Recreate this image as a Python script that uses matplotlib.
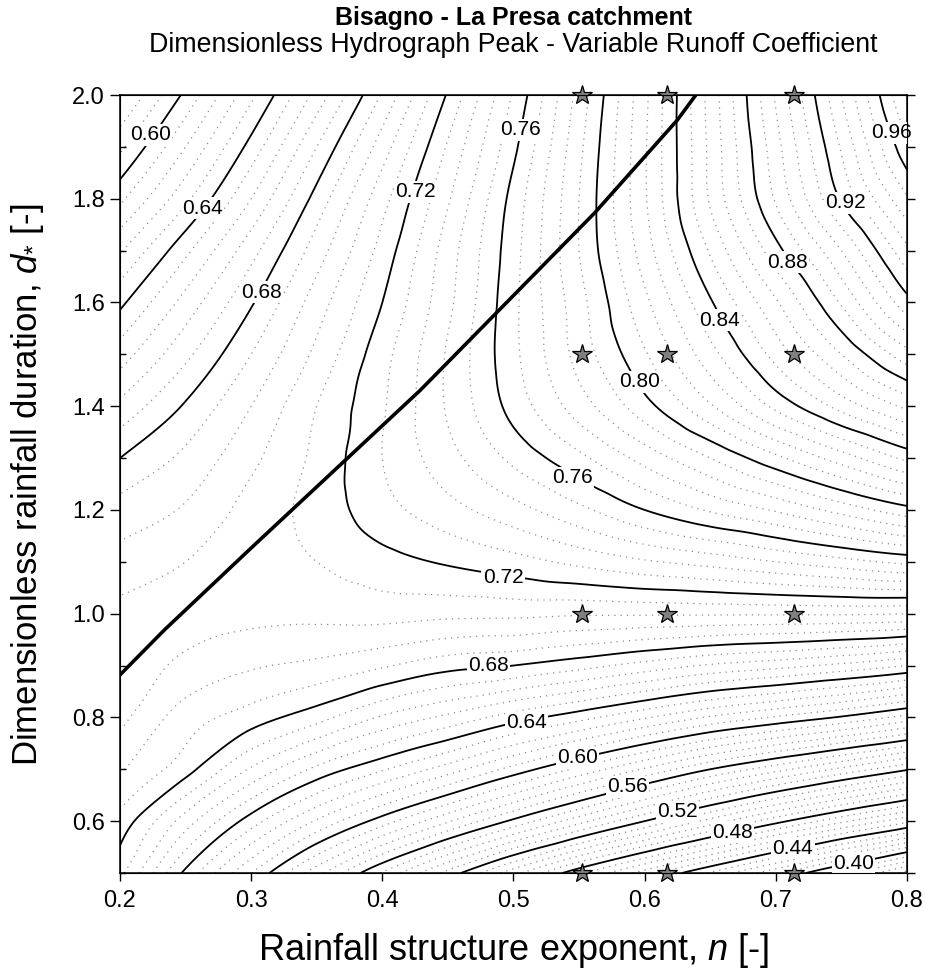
import numpy as np
import matplotlib
matplotlib.use("Agg")
import matplotlib.pyplot as plt
import matplotlib.tri as mtri

plt.rcParams['font.family'] = ['Liberation Sans', 'DejaVu Sans']
plt.rcParams['mathtext.fontset'] = 'custom'
plt.rcParams['mathtext.rm'] = 'Liberation Sans'
plt.rcParams['mathtext.it'] = 'Liberation Sans:italic'

# grid of the dimensionless hydrograph peak
n_values = [0.20, 0.25, 0.30, 0.35, 0.40, 0.45, 0.50, 0.55, 0.60, 0.65, 0.70, 0.75, 0.80]
d_values = [0.5, 0.6, 0.7, 0.8, 0.9, 1.0, 1.1, 1.2, 1.3, 1.4, 1.5, 1.6, 1.7, 1.8, 1.9, 2.0]
peak = [
    [0.674, 0.638, 0.608, 0.579, 0.551, 0.525, 0.499, 0.474, 0.452, 0.431, 0.410, 0.388, 0.365],
    [0.685, 0.660, 0.636, 0.615, 0.596, 0.577, 0.558, 0.539, 0.520, 0.501, 0.483, 0.466, 0.450],
    [0.697, 0.683, 0.663, 0.646, 0.633, 0.620, 0.605, 0.590, 0.575, 0.560, 0.547, 0.534, 0.521],
    [0.706, 0.692, 0.684, 0.675, 0.663, 0.654, 0.644, 0.635, 0.625, 0.615, 0.607, 0.599, 0.589],
    [0.709, 0.702, 0.697, 0.694, 0.689, 0.683, 0.680, 0.675, 0.669, 0.663, 0.659, 0.654, 0.648],
    [0.706, 0.707, 0.706, 0.706, 0.707, 0.706, 0.706, 0.705, 0.705, 0.705, 0.705, 0.705, 0.704],
    [0.699, 0.704, 0.708, 0.712, 0.717, 0.721, 0.725, 0.730, 0.735, 0.739, 0.744, 0.749, 0.754],
    [0.691, 0.697, 0.707, 0.715, 0.725, 0.733, 0.741, 0.750, 0.760, 0.769, 0.777, 0.787, 0.797],
    [0.680, 0.690, 0.702, 0.714, 0.728, 0.741, 0.754, 0.766, 0.779, 0.792, 0.806, 0.820, 0.834],
    [0.666, 0.681, 0.696, 0.712, 0.727, 0.745, 0.763, 0.780, 0.797, 0.815, 0.834, 0.851, 0.866],
    [0.652, 0.670, 0.688, 0.706, 0.725, 0.745, 0.766, 0.787, 0.807, 0.829, 0.851, 0.872, 0.893],
    [0.638, 0.659, 0.679, 0.700, 0.720, 0.742, 0.766, 0.789, 0.814, 0.839, 0.863, 0.889, 0.917],
    [0.623, 0.646, 0.669, 0.692, 0.715, 0.740, 0.765, 0.792, 0.820, 0.849, 0.877, 0.904, 0.934],
    [0.606, 0.630, 0.656, 0.683, 0.709, 0.735, 0.763, 0.792, 0.823, 0.857, 0.889, 0.921, 0.951],
    [0.590, 0.616, 0.643, 0.672, 0.700, 0.729, 0.758, 0.790, 0.823, 0.858, 0.893, 0.929, 0.966],
    [0.574, 0.602, 0.630, 0.659, 0.689, 0.721, 0.753, 0.787, 0.822, 0.859, 0.897, 0.936, 0.977],
]

# critical duration curve
critical_n = [0.200, 0.234, 0.301, 0.368, 0.429, 0.459, 0.562, 0.625, 0.639]
critical_d = [0.882, 0.969, 1.129, 1.287, 1.431, 1.508, 1.773, 1.952, 2.000]

# simulated cases
case_n = [0.552, 0.617, 0.714]
case_d = [0.5, 1.0, 1.5, 2.0]

# contour labels: value and location
label_values = [0.60, 0.64, 0.68, 0.72, 0.76, 0.96, 0.92, 0.88, 0.84, 0.80,
                0.76, 0.72, 0.68, 0.64, 0.60, 0.56, 0.52, 0.48, 0.44, 0.40]
label_n = [0.223, 0.263, 0.308, 0.425, 0.505, 0.788, 0.753, 0.709, 0.657, 0.596,
           0.545, 0.492, 0.481, 0.510, 0.549, 0.587, 0.625, 0.667, 0.713, 0.759]
label_d = [1.923, 1.782, 1.620, 1.813, 1.933, 1.927, 1.792, 1.678, 1.566, 1.447,
           1.262, 1.069, 0.901, 0.791, 0.722, 0.666, 0.618, 0.579, 0.548, 0.519]

major_step = 0.04
minor_step = 0.008

n_lo, n_span = 0.2, 0.6
d_lo, d_span = 0.5, 1.5

fig = plt.figure(figsize=(9.26, 9.72), dpi=100)
ax = fig.add_axes([120 / 926, 1 - 873 / 972, 787 / 926, 778 / 972])

# smooth surface: cubic interpolation on a regular triangulation built in
# axis-normalised coordinates, then mapped back to (n, d)
N, D = np.meshgrid(n_values, d_values)
Z = np.array(peak).ravel()
nr, nc = len(d_values), len(n_values)
cells = []
for i in range(nr - 1):
    for j in range(nc - 1):
        k00 = i * nc + j
        k01, k10, k11 = k00 + 1, k00 + nc, k00 + nc + 1
        cells.append([k00, k01, k11])
        cells.append([k00, k11, k10])
tri_u = mtri.Triangulation((N.ravel() - n_lo) / n_span, (D.ravel() - d_lo) / d_span,
                           triangles=np.array(cells))
interp = mtri.CubicTriInterpolator(tri_u, Z, kind='geom')
tri_fu, z_f = mtri.UniformTriRefiner(tri_u).refine_field(Z, triinterpolator=interp,
                                                           subdiv=4)
tri_f = mtri.Triangulation(n_lo + n_span * tri_fu.x, d_lo + d_span * tri_fu.y,
                           tri_fu.triangles)

all_levels = np.round(np.arange(0.344, 1.0, minor_step), 3)
major_levels = [v for v in all_levels if abs(v / major_step - round(v / major_step)) < 1e-6]
minor_levels = [v for v in all_levels if v not in major_levels]

cs_minor = ax.tricontour(tri_f, z_f, levels=minor_levels, colors='#8c8c8c',
                         linewidths=0.9, zorder=1)
cs_minor.set_linestyle((0, (1, 4)))
ax.tricontour(tri_f, z_f, levels=major_levels, colors='black', linewidths=1.3, zorder=2)

for v, x, y in zip(label_values, label_n, label_d):
    ax.text(x, y, f"{v:.2f}", ha='center', va='center', fontsize=15, zorder=3,
            bbox=dict(boxstyle='square,pad=0.06', fc='white', ec='none'))

ax.plot(critical_n, critical_d, color='black', lw=2.6, zorder=4)

for cn in case_n:
    ax.plot([cn] * len(case_d), case_d, ls='none', marker='*', ms=15,
            mfc='#808080', mec='black', mew=0.9, zorder=5, clip_on=False)

ax.set_xlim(0.2, 0.8)
ax.set_ylim(0.5, 2.0)
ax.set_xticks(np.round(np.arange(0.2, 0.81, 0.1), 1))
ax.set_yticks(np.round(np.arange(0.6, 2.01, 0.2), 1))
ax.set_yticks(np.round(np.arange(0.5, 2.01, 0.2), 1), minor=True)
ax.tick_params(axis='x', which='major', direction='out', length=6, width=1,
               labelsize=17, pad=6)
ax.tick_params(axis='y', which='major', direction='out', length=7, width=1,
               labelsize=17, pad=4)
ax.tick_params(axis='y', which='minor', direction='in', length=4, width=1)
for s in ax.spines.values():
    s.set_linewidth(1.1)

axr = ax.twinx()
axr.set_ylim(0.5, 2.0)
axr.set_yticks(np.round(np.arange(0.5, 2.01, 0.1), 1))
axr.tick_params(axis='y', direction='out', length=6, width=1, labelright=False)

fig.text(513.5 / 926, 1 - 950 / 972, r"Rainfall structure exponent, $n$ [-]",
         ha='center', va='center', fontsize=26)
fig.text(28 / 926, 1 - 485 / 972, r"Dimensionless rainfall duration, $d_{*}$ [-]",
         ha='center', va='center', rotation=90, fontsize=25)

fig.text(513.5 / 926, 1 - 18 / 972, "Bisagno - La Presa catchment", ha='center',
         va='center', fontsize=18, fontweight='bold')
fig.text(513.5 / 926, 1 - 45 / 972,
         "Dimensionless Hydrograph Peak - Variable Runoff Coefficient",
         ha='center', va='center', fontsize=19.3)

fig.savefig("out.png", dpi=100)
